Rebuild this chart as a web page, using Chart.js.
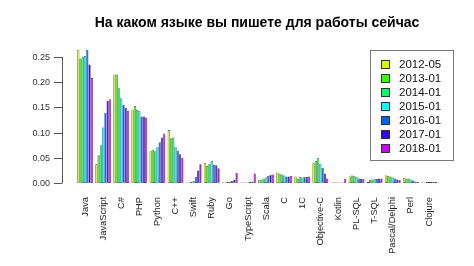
<!DOCTYPE html>
<html>
<head>
<meta charset="utf-8">
<script src="https://cdn.jsdelivr.net/npm/chart.js@4"></script>
<style>
	html, body { margin: 0; padding: 0; background: #fff; }
	#wrap { width: 474px; height: 266px; }
</style>
</head>
<body>
<div id="wrap"><canvas id="canvasLangs" width="474" height="266"></canvas></div>
<script>
"use strict"

// data
var languages = ['Java', 'JavaScript', 'C#', 'PHP', 'Python', 'C++', 'Swift', 'Ruby', 'Go', 'TypeScript',
	'Scala', 'C', '1C', 'Objective-C', 'Kotlin', 'PL-SQL', 'T-SQL', 'Pascal/Delphi', 'Perl', 'Clojure']

var surveyDates = ['2012-05', '2013-01', '2014-01', '2015-01', '2016-01', '2017-01', '2018-01']

var share2012_05 = [0.264, 0.037, 0.215, 0.145, 0.064, 0.105, 0.000, 0.039, 0.001, 0.000, 0.006, 0.021, 0.013, 0.039, 0.000, 0.013, 0.002, 0.015, 0.010, 0.001]
var share2013_01 = [0.247, 0.055, 0.215, 0.153, 0.066, 0.088, 0.001, 0.034, 0.001, 0.000, 0.007, 0.019, 0.008, 0.044, 0.000, 0.015, 0.006, 0.014, 0.009, 0.001]
var share2014_01 = [0.251, 0.075, 0.188, 0.145, 0.063, 0.090, 0.002, 0.038, 0.002, 0.000, 0.009, 0.017, 0.012, 0.049, 0.000, 0.014, 0.007, 0.013, 0.009, 0.002]
var share2015_01 = [0.252, 0.110, 0.168, 0.143, 0.071, 0.072, 0.004, 0.044, 0.003, 0.001, 0.011, 0.015, 0.011, 0.038, 0.000, 0.012, 0.008, 0.011, 0.007, 0.002]
var share2016_01 = [0.264, 0.139, 0.155, 0.132, 0.081, 0.064, 0.012, 0.036, 0.004, 0.002, 0.014, 0.013, 0.012, 0.030, 0.000, 0.009, 0.008, 0.009, 0.005, 0.002]
var share2017_01 = [0.235, 0.163, 0.149, 0.132, 0.090, 0.057, 0.025, 0.035, 0.007, 0.003, 0.016, 0.013, 0.012, 0.019, 0.001, 0.008, 0.009, 0.007, 0.003, 0.002]
var share2018_01 = [0.208, 0.166, 0.143, 0.130, 0.098, 0.050, 0.037, 0.029, 0.020, 0.019, 0.017, 0.014, 0.013, 0.009, 0.008, 0.008, 0.009, 0.006, 0.002, 0.002]

var yTickValues = [0, 0.05, 0.10, 0.15, 0.20, 0.25]

var seriesColors = ['#CCFF00', '#33FF00', '#00FF66', '#00FFFF', '#0066FF', '#3300FF', '#CC00FF']

var fontFamily = "'Liberation Sans', Arial, Helvetica, sans-serif"

function BuildDatasets() {
	var all = [share2012_05, share2013_01, share2014_01, share2015_01, share2016_01, share2017_01, share2018_01]
	var datasets = []
	all.forEach(function (values, index) {
		datasets.push({
			label: surveyDates[index],
			data: values,
			backgroundColor: seriesColors[index],
			borderColor: 'rgba(0, 0, 0, 0.8)',
			borderWidth: 0.6,
			borderSkipped: false,
			minBarLength: 0.6,
			categoryPercentage: 0.875,
			barPercentage: 1.0
		})
	})
	return datasets
}

// R style y axis, set off to the left of the bars
var rAxisPlugin = {
	id: 'rAxis',
	afterDraw: function (chart) {
		const ctx = chart.ctx
		const y = chart.scales.y
		const axisX = 62
		const top = y.getPixelForValue(yTickValues[yTickValues.length - 1])
		const bottom = y.getPixelForValue(yTickValues[0])
		ctx.save()
		ctx.strokeStyle = '#555'
		ctx.lineWidth = 1
		ctx.beginPath()
		ctx.moveTo(axisX + 0.5, top)
		ctx.lineTo(axisX + 0.5, bottom)
		ctx.stroke()
		ctx.fillStyle = '#333'
		ctx.font = '9px ' + fontFamily
		ctx.textAlign = 'right'
		ctx.textBaseline = 'middle'
		yTickValues.forEach(function (v) {
			const py = Math.round(y.getPixelForValue(v)) + 0.5
			ctx.beginPath()
			ctx.moveTo(axisX - 8, py)
			ctx.lineTo(axisX + 0.5, py)
			ctx.stroke()
			ctx.fillText(v.toFixed(2), axisX - 12, py)
		})
		ctx.restore()
	}
}

// boxed legend inside the plot, top right
var boxLegendPlugin = {
	id: 'boxLegend',
	afterDraw: function (chart) {
		const ctx = chart.ctx
		const left = 370, top = 50, width = 83, height = 110
		const rowH = 14.05
		ctx.save()
		ctx.fillStyle = '#fff'
		ctx.fillRect(left, top, width, height)
		ctx.strokeStyle = '#777'
		ctx.lineWidth = 1
		ctx.strokeRect(left + 0.5, top + 0.5, width, height)
		ctx.font = '11.5px ' + fontFamily
		ctx.textAlign = 'left'
		ctx.textBaseline = 'middle'
		chart.data.datasets.forEach(function (ds, i) {
			const cy = top + 14 + i * rowH
			ctx.fillStyle = ds.backgroundColor
			ctx.fillRect(381, Math.round(cy - 4), 9, 9)
			ctx.strokeStyle = '#333'
			ctx.strokeRect(381.5, Math.round(cy - 4) + 0.5, 8, 8)
			ctx.fillStyle = '#111'
			ctx.fillText(ds.label, 399, cy + 1)
		})
		ctx.restore()
	}
}

const context = document.getElementById('canvasLangs').getContext('2d')
const langChart = new Chart(context, {
	type: 'bar',
	data: {
		labels: languages,
		datasets: BuildDatasets()
	},
	plugins: [rAxisPlugin, boxLegendPlugin],
	options: {
		responsive: false,
		animation: false,
		layout: {
			padding: { left: 76, right: 36, top: 0, bottom: 0 }
		},
		plugins: {
			legend: { display: false },
			tooltip: { enabled: false },
			title: {
				display: true,
				text: 'На каком языке вы пишете для работы сейчас',
				color: '#000',
				font: { family: fontFamily, size: 14, weight: 'bold' },
				padding: { top: 15, bottom: 15 }
			}
		},
		scales: {
			x: {
				grid: { display: false, drawTicks: false },
				border: { display: false },
				ticks: {
					autoSkip: false,
					minRotation: 90,
					maxRotation: 90,
					padding: 14,
					color: '#222',
					font: { family: fontFamily, size: 9.3 }
				},
				afterFit: function (scale) {
					scale.height = 83
				}
			},
			y: {
				display: false,
				min: 0,
				max: 0.27,
				ticks: { stepSize: 0.05 }
			}
		}
	}
})
</script>
</body>
</html>
